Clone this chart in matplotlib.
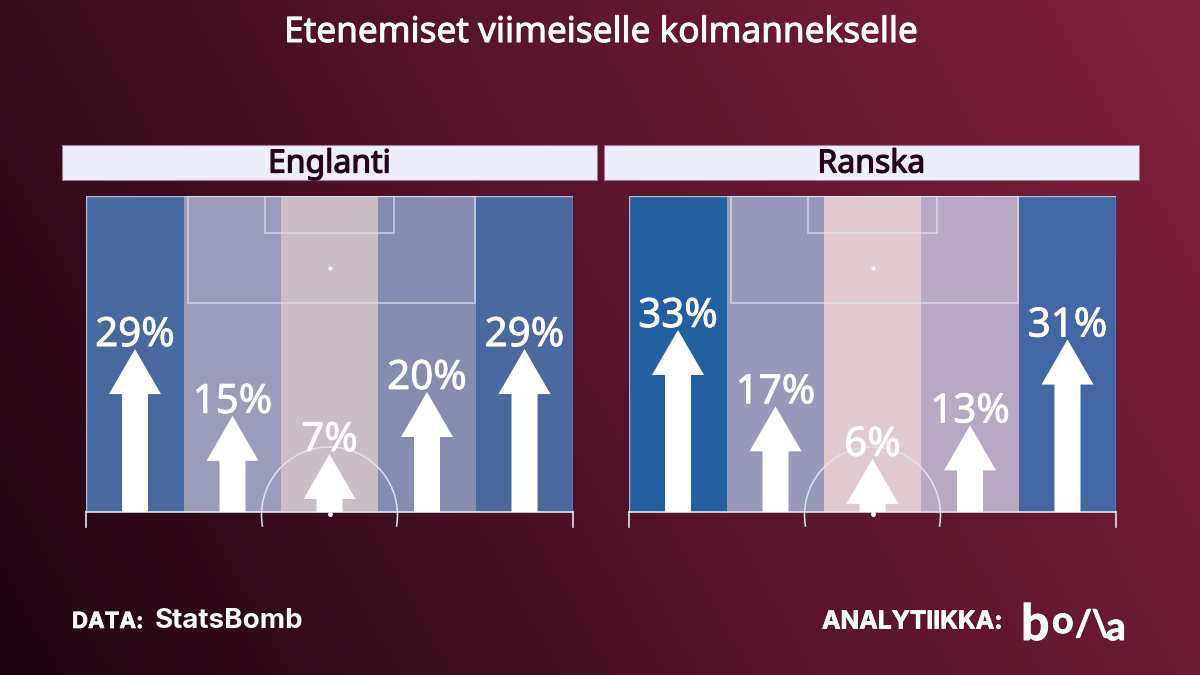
import numpy as np
import matplotlib
matplotlib.use("Agg")
import matplotlib.pyplot as plt
import matplotlib.patheffects as pe
from matplotlib.colors import LinearSegmentedColormap
from matplotlib.patches import Arc, Rectangle

plt.rcParams['font.family'] = ['Noto Sans', 'DejaVu Sans']

# --- Data ---
TITLE = "Etenemiset viimeiselle kolmannekselle"
teams = ["Englanti", "Ranska"]
england_values = [29, 15, 7, 20, 29]
france_values = [33, 17, 6, 13, 31]
england_colors = ["#47699f", "#9a9cba", "#c9bdc6", "#858cb0", "#4b69a1"]
france_colors = ["#22609f", "#9899b9", "#e0cad0", "#b7a9c3", "#4367a5"]
zone_edges = [0, 98, 195, 292, 390, 487]

# --- Layout, in pixels of the 1200x675 figure ---
W, H = 1200, 675
PITCH_TOP = 196
PITCH_BASE = 512
PITCH_W = 487
BELOW = 20
WHITE = "#ffffff"
LINE = "#dfe3f0"


def add_ax(x0, y0, x1, y1):
    # y0 and y1 measured from the top of the picture
    return fig.add_axes([x0 / W, 1 - y1 / H, (x1 - x0) / W, (y1 - y0) / H])


def heavy(color, lw):
    # Noto Sans only comes in one weight here, thicken it with a stroke
    return [pe.withStroke(linewidth=lw, foreground=color)]


def draw_pitch(ax, values, colors):
    ax.set_xlim(0, PITCH_W)
    ax.set_ylim(-BELOW, PITCH_BASE - PITCH_TOP)
    ax.axis("off")

    depth = PITCH_BASE - PITCH_TOP
    for i, (val, col) in enumerate(zip(values, colors)):
        left, right = zone_edges[i], zone_edges[i + 1]
        ax.bar((left + right) / 2, depth, width=right - left, bottom=0, color=col, zorder=1)

    # pitch markings
    ax.plot([0, 0, PITCH_W, PITCH_W], [0, depth, depth, 0], color=LINE, lw=1, alpha=0.7, zorder=2)
    ax.add_patch(Rectangle((102, depth - 107), 287, 107, fill=False, ec=LINE, lw=1.1, alpha=0.8, zorder=2))
    ax.add_patch(Rectangle((179, depth - 37), 129, 37, fill=False, ec=LINE, lw=1.1, alpha=0.8, zorder=2))
    ax.plot([243.5], [depth - 72], "o", color=WHITE, ms=2, zorder=2)
    ax.plot([0, PITCH_W], [0, 0], color=LINE, lw=1.2, zorder=3, clip_on=False)
    ax.plot([0, 0], [0, -15], color=LINE, lw=1.2, zorder=3, clip_on=False)
    ax.plot([PITCH_W, PITCH_W], [0, -15], color=LINE, lw=1.2, zorder=3, clip_on=False)
    ax.add_patch(Arc((243.5, -3), 136, 136, theta1=-10, theta2=190, ec=LINE, lw=1.1, zorder=3))
    ax.plot([243.5], [-2], "o", color=WHITE, ms=2.5, zorder=3)

    # arrows grow with the value, labels sit on their tips
    for i, val in enumerate(values):
        x = (zone_edges[i] + zone_edges[i + 1]) / 2
        length = 4.77 * val + 24.6
        ax.arrow(x, 0, 0, length, width=26, head_width=52, head_length=45,
                 length_includes_head=True, fc=WHITE, ec="none", zorder=4)
        ax.text(x, length + 3, f"{val}%", color=WHITE, fontsize=29, ha="center", va="baseline", zorder=5,
                path_effects=heavy(WHITE, 0.6))


fig = plt.figure(figsize=(W / 100, H / 100), dpi=100)

# background gradient
bg = fig.add_axes([0, 0, 1, 1])
xx, yy = np.meshgrid(np.linspace(0, 1, 300), np.linspace(0, 1, 170))
bg_cmap = LinearSegmentedColormap.from_list("bg", ["#1d050f", "#541329", "#7d1f3b"])
bg.imshow(0.8 * xx + 0.25 * (1 - yy), cmap=bg_cmap, aspect="auto", extent=[0, W, H, 0], vmin=0, vmax=1.0, origin="upper")
bg.set_xlim(0, W)
bg.set_ylim(H, 0)
bg.axis("off")

bg.text(601, 33, TITLE, color=WHITE, fontsize=25.3, ha="center", va="center", path_effects=heavy(WHITE, 0.7))

# header bars
for name, x0, x1 in zip(teams, [62, 604], [597, 1139]):
    bg.add_patch(Rectangle((x0, 145), x1 - x0, 35, fc="#eeeefa", ec="#9a7f92", lw=0.8))
    bg.text((x0 + x1) / 2, 164, name, color="#24061a", fontsize=23, ha="center", va="center",
            path_effects=heavy("#24061a", 0.9))

draw_pitch(add_ax(86, PITCH_TOP, 86 + PITCH_W, PITCH_BASE + BELOW), england_values, england_colors)
draw_pitch(add_ax(629, PITCH_TOP, 629 + PITCH_W, PITCH_BASE + BELOW), france_values, france_colors)

# footer
bg.text(72, 622, "DATA:", color=WHITE, fontsize=16, fontweight="bold", family="Inter", ha="left", va="center",
        path_effects=heavy(WHITE, 0.5))
bg.text(155, 621, "StatsBomb", color=WHITE, fontsize=20, fontweight="bold", family="Inter", ha="left", va="center")
bg.text(822, 622, "ANALYTIIKKA:", color=WHITE, fontsize=17.8, fontweight="bold", family="Inter", ha="left", va="center",
        path_effects=heavy(WHITE, 0.5))
for txt, x, y, size in [("b", 1021, 640, 36), ("o", 1052, 633, 27), ("/\\", 1075, 636, 26), ("a", 1106, 640, 28)]:
    bg.text(x, y, txt, color=WHITE, fontsize=size, fontweight="bold", family="Lato", ha="left", va="baseline",
            path_effects=heavy(WHITE, 0.7))

fig.savefig("out.png", dpi=100)
